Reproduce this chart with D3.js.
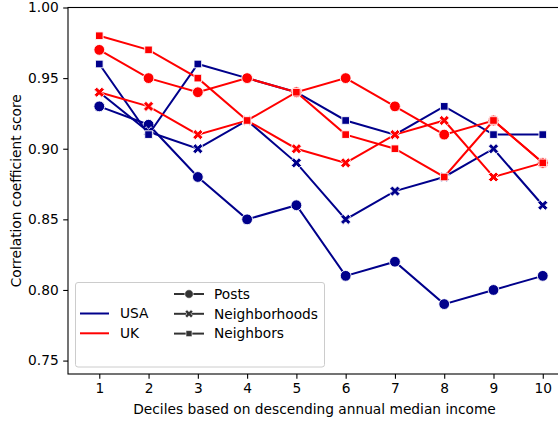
<!DOCTYPE html>
<html>
<head>
<meta charset="utf-8">
<script src="https://cdn.jsdelivr.net/npm/d3@7"></script>
<style>
  body { margin: 0; background: #fff; }
  svg { display: block; font-family: "DejaVu Sans", sans-serif; }
</style>
</head>
<body>
<div id="chart"></div>
<script>
// deciles on x
const deciles = [1, 2, 3, 4, 5, 6, 7, 8, 9, 10];
const countries = ["USA", "UK"];
const measures = ["Posts", "Neighborhoods", "Neighbors"];
const yTicks = [0.75, 0.80, 0.85, 0.90, 0.95, 1.00];

const usaPosts = [0.93, 0.917, 0.88, 0.85, 0.86, 0.81, 0.82, 0.79, 0.80, 0.81];
const usaNeighborhoods = [0.94, 0.912, 0.90, 0.92, 0.89, 0.85, 0.87, 0.88, 0.90, 0.86];
const usaNeighbors = [0.96, 0.91, 0.96, 0.95, 0.94, 0.92, 0.91, 0.93, 0.91, 0.91];
const ukPosts = [0.97, 0.95, 0.94, 0.95, 0.94, 0.95, 0.93, 0.91, 0.92, 0.89];
const ukNeighborhoods = [0.94, 0.93, 0.91, 0.92, 0.90, 0.89, 0.91, 0.92, 0.88, 0.89];
const ukNeighbors = [0.98, 0.97, 0.95, 0.92, 0.94, 0.91, 0.90, 0.88, 0.92, 0.89];

let series = [
  {country: "USA", measure: "Posts", values: usaPosts},
  {country: "USA", measure: "Neighborhoods", values: usaNeighborhoods},
  {country: "USA", measure: "Neighbors", values: usaNeighbors},
  {country: "UK", measure: "Posts", values: ukPosts},
  {country: "UK", measure: "Neighborhoods", values: ukNeighborhoods},
  {country: "UK", measure: "Neighbors", values: ukNeighbors}
];

let width = 558, height = 421;
let margin = {top: 7.5, left: 68, right: -3, bottom: 47};
let fs = "13.75px";

let color = d3.scaleOrdinal().domain(countries).range(["#00008b", "#ff0000"]);

let x = d3.scaleLinear().domain([0.365, 10.37]).range([margin.left, width - margin.right]);
let y = d3.scaleLinear().domain([0.7405, 1.0]).range([height - margin.bottom, margin.top]);

// marker paths, s = marker size in px
function markerPath(measure, s) {
  if (measure == "Posts") {
    return d3.symbol(d3.symbolCircle, Math.PI * (s / 2) * (s / 2))();
  }
  if (measure == "Neighbors") {
    let h = s / (2 * Math.SQRT2);
    return `M${-h},${-h}L${h},${-h}L${h},${h}L${-h},${h}Z`;
  }
  // filled X like matplotlib 'X'
  let pts = [[-1,-3],[1,-3],[1,-1],[3,-1],[3,1],[1,1],[1,3],[-1,3],[-1,1],[-3,1],[-3,-1],[-1,-1]];
  let c = Math.SQRT1_2;
  return "M" + pts.map(function(p) {
    let px = (p[0] * c - p[1] * c) * s / 6;
    let py = (p[0] * c + p[1] * c) * s / 6;
    return px.toFixed(2) + "," + py.toFixed(2);
  }).join("L") + "Z";
}

let svg = d3.select("#chart").append("svg")
  .attr("width", width)
  .attr("height", height);

svg.append("rect").attr("width", width).attr("height", height).attr("fill", "#fff");

let line = d3.line()
  .x(function(d, i) { return x(deciles[i]); })
  .y(function(d) { return y(d); });

series.forEach(function(s) {
  let g = svg.append("g");
  g.append("path")
    .attr("d", line(s.values))
    .attr("fill", "none")
    .attr("stroke", color(s.country))
    .attr("stroke-width", 2);
  g.selectAll(".mk")
    .data(s.values)
    .enter().append("path")
    .attr("class", "mk")
    .attr("transform", function(d, i) { return "translate(" + x(deciles[i]) + "," + y(d) + ")"; })
    .attr("d", markerPath(s.measure, 10.8))
    .attr("fill", color(s.country))
    .attr("stroke", "#fff")
    .attr("stroke-width", 0.9);
});

// axes
let xAxis = svg.append("g")
  .attr("transform", "translate(0," + (height - margin.bottom) + ")")
  .call(d3.axisBottom(x).tickValues(deciles).tickFormat(d3.format("d")).tickSize(4.8).tickPadding(4.5));
let yAxis = svg.append("g")
  .attr("transform", "translate(" + margin.left + ",0)")
  .call(d3.axisLeft(y).tickValues(yTicks).tickFormat(d3.format(".2f")).tickSize(4.8).tickPadding(4.5));

[xAxis, yAxis].forEach(function(a) {
  a.select(".domain").remove();
  a.selectAll(".tick line").attr("stroke", "#000").attr("stroke-width", 1.1);
  a.selectAll(".tick text").attr("fill", "#000").style("font-size", fs).style("font-family", "DejaVu Sans");
});

// spines
svg.append("rect")
  .attr("x", margin.left)
  .attr("y", margin.top)
  .attr("width", width - margin.right - margin.left)
  .attr("height", height - margin.bottom - margin.top)
  .attr("fill", "none")
  .attr("stroke", "#000")
  .attr("stroke-width", 1.1);

// axis labels
svg.append("text")
  .attr("x", (margin.left + width - margin.right) / 2)
  .attr("y", 414)
  .attr("text-anchor", "middle")
  .style("font-size", fs)
  .text("Deciles based on descending annual median income");

svg.append("text")
  .attr("transform", "translate(21," + ((margin.top + height - margin.bottom) / 2) + ") rotate(-90)")
  .attr("text-anchor", "middle")
  .style("font-size", fs)
  .text("Correlation coefficient score");

// legend
let legend = svg.append("g");
legend.append("rect")
  .attr("x", 75.5).attr("y", 282.5)
  .attr("width", 249).attr("height", 84.5)
  .attr("rx", 2.5)
  .attr("fill", "#fff").attr("fill-opacity", 0.8)
  .attr("stroke", "#ccc").attr("stroke-width", 1);

countries.forEach(function(c, i) {
  let yy = 313.5 + i * 19.8;
  legend.append("line")
    .attr("x1", 80).attr("x2", 109).attr("y1", yy).attr("y2", yy)
    .attr("stroke", color(c)).attr("stroke-width", 2);
  legend.append("text")
    .attr("x", 120).attr("y", yy).attr("dy", "0.35em")
    .style("font-size", fs)
    .text(c);
});

measures.forEach(function(m, i) {
  let yy = 294 + i * 19.8;
  legend.append("line")
    .attr("x1", 174).attr("x2", 204).attr("y1", yy).attr("y2", yy)
    .attr("stroke", "#333").attr("stroke-width", 2);
  legend.append("path")
    .attr("transform", "translate(189," + yy + ")")
    .attr("d", markerPath(m, 8.5))
    .attr("fill", "#333")
    .attr("stroke", "#fff").attr("stroke-width", 0.6);
  legend.append("text")
    .attr("x", 214).attr("y", yy).attr("dy", "0.35em")
    .style("font-size", fs)
    .text(m);
});
</script>
</body>
</html>
